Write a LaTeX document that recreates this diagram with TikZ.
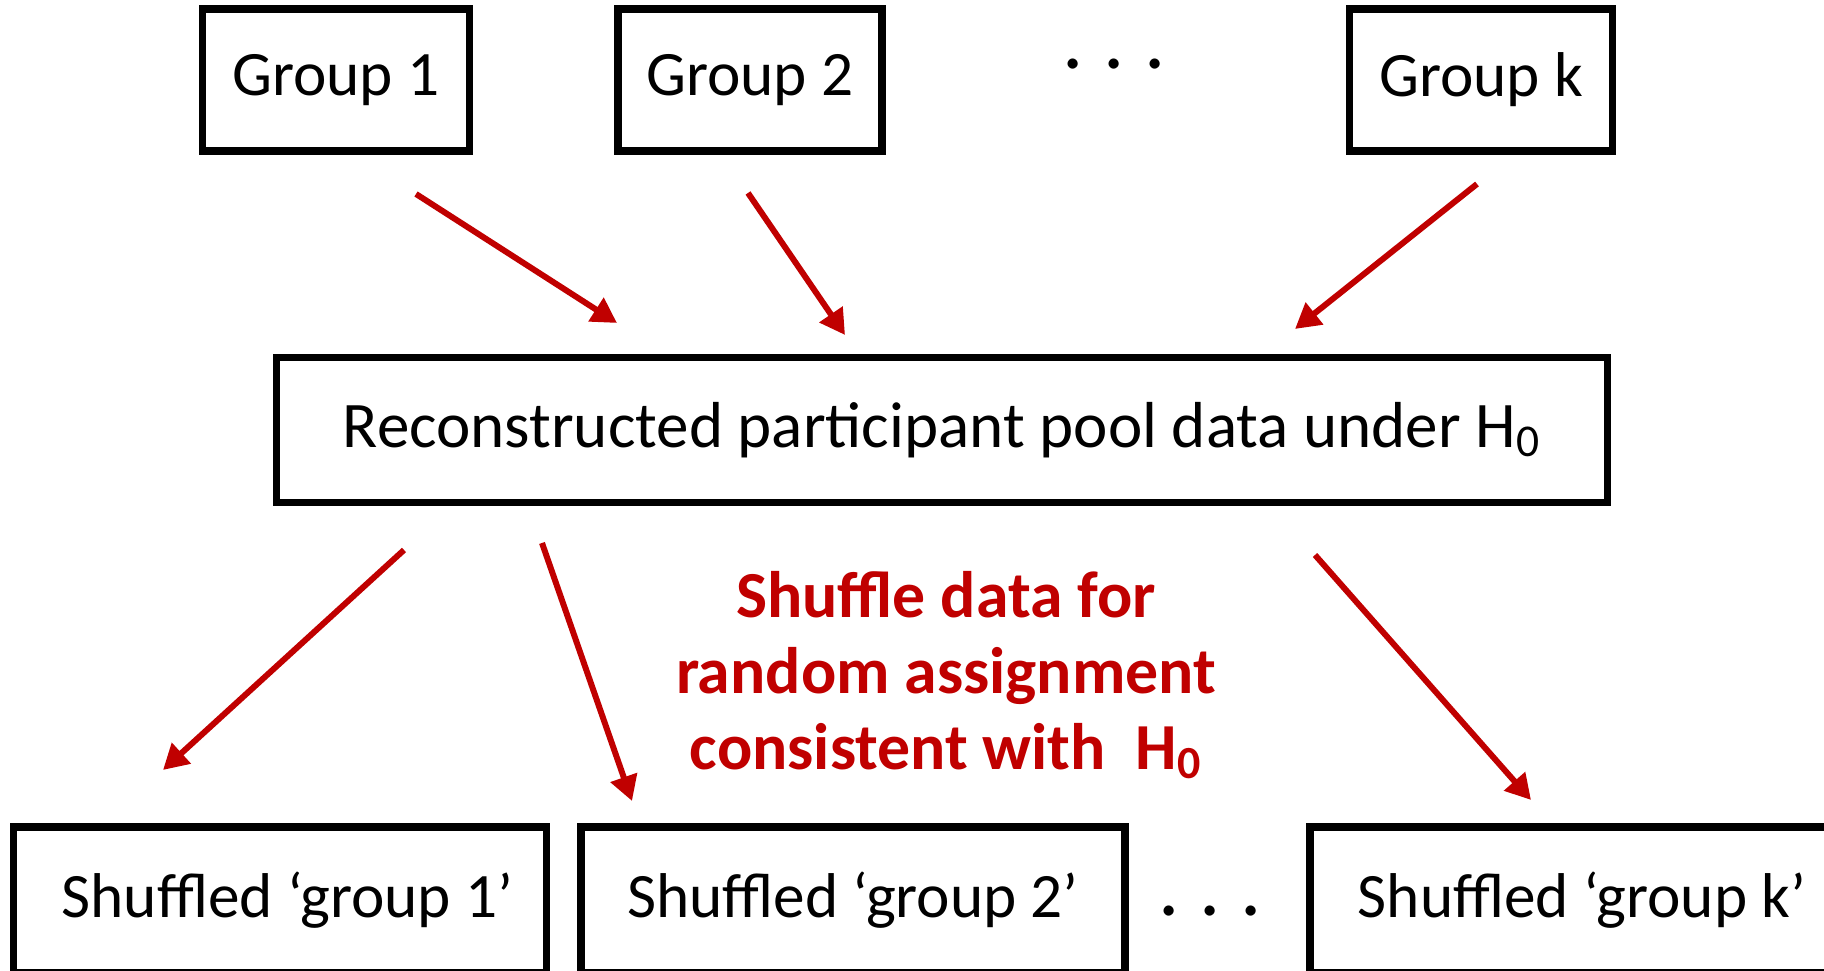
\documentclass[tikz,border=0pt]{standalone}
\usepackage{fontspec}
\setmainfont{Carlito}
\usetikzlibrary{arrows.meta, positioning}
\definecolor{SHUFred}{RGB}{192,0,0}

\begin{document}
\begin{tikzpicture}[
    grpbox/.style={draw, line width=2.2pt, minimum height=1.42cm, inner sep=0pt,
      font=\fontsize{18}{21}\selectfont},
    dotrow/.style={anchor=base, inner sep=0pt, font=\fontsize{24}{24}\selectfont},
    redarrow/.style={SHUFred, line width=1.7pt, -{Triangle[length=0.25cm,width=0.27cm]}}]
  \useasboundingbox (0,0) rectangle (18.24,9.71);
  % top row
  \node[grpbox, minimum width=2.67cm] (g1) at (3.36,8.91) {Group 1};
  \node[grpbox, minimum width=2.64cm] (g2) at (7.50,8.91) {Group 2};
  \node[grpbox, minimum width=2.63cm] (gk) at (14.81,8.91) {Group k};
  \node[dotrow] (topdots) at (11.14,9.02) {.\hspace{0.197cm}.\hspace{0.197cm}.};
  % pool
  \node[grpbox, minimum width=13.31cm, minimum height=1.45cm, font=\fontsize{18.5}{21}\selectfont] (pool) at (9.42,5.41)
    {Reconstructed participant pool data under H\textsubscript{0}};
  \node[SHUFred, align=center, font=\bfseries\fontsize{18.7}{21.6}\selectfont] (shuf) at (9.46,2.96)
    {Shuffle data for\\random assignment\\consistent with\ \ H\textsubscript{0}};
  % bottom row
  \node[grpbox, minimum width=5.33cm, minimum height=1.46cm] (s1) at (2.80,0.71) {\hspace{0.15cm}Shuffled ‘group 1’};
  \node[grpbox, minimum width=5.44cm, minimum height=1.46cm] (s2) at (8.53,0.71) {Shuffled ‘group 2’};
  \node[grpbox, minimum width=5.44cm, minimum height=1.46cm] (sk) at (15.82,0.71) {Shuffled ‘group k’};
  \node[dotrow] (botdots) at (12.10,0.55) {.\hspace{0.197cm}.\hspace{0.197cm}.};
  % arrow ends
  \coordinate (a1) at (4.16,7.77);  \coordinate (b1) at (6.17,6.48);
  \coordinate (a2) at (7.48,7.78);  \coordinate (b2) at (8.45,6.36);
  \coordinate (a3) at (14.77,7.87); \coordinate (b3) at (12.95,6.42);
  \coordinate (a4) at (4.04,4.21);  \coordinate (b4) at (1.63,2.01);
  \coordinate (a5) at (5.42,4.28);  \coordinate (b5) at (6.32,1.70);
  \coordinate (a6) at (13.15,4.16); \coordinate (b6) at (15.31,1.71);
  \foreach \i in {1,...,6}{
    \draw[redarrow] (a\i) -- (b\i);}
\end{tikzpicture}
\end{document}
